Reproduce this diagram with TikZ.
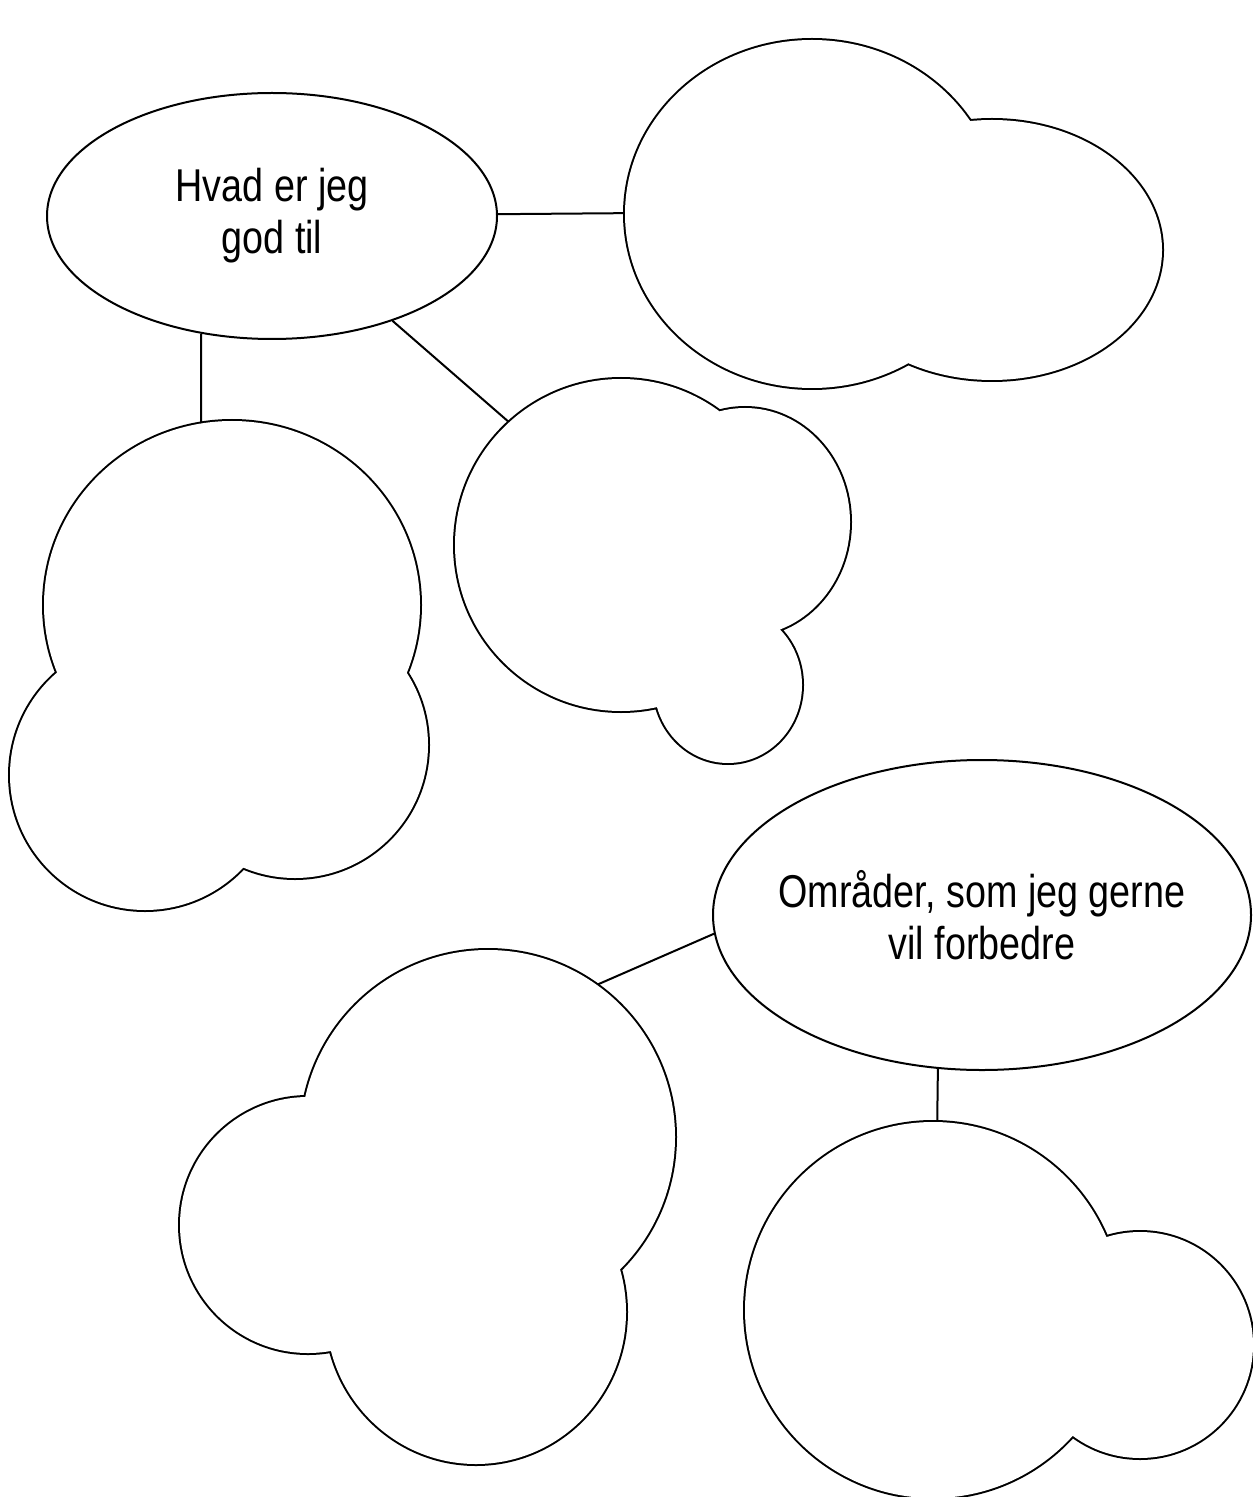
\documentclass[tikz,border=0pt]{standalone}
\usepackage{fontspec}
\setmainfont{Liberation Sans}[FakeStretch=0.82]
\usetikzlibrary{shapes.geometric}
\begin{document}
\begin{tikzpicture}
[x=0.5pt,y=-0.5pt,
  nodedecorate/.style={shape=ellipse,draw,fill=white,line width=1pt,inner xsep=-12pt,inner ysep=0pt,
    align=center,font=\fontsize{23}{26}\selectfont},%
  linedecorate/.style={-,line width=1pt},%
  cloudshape/.style={fill=white,preaction={draw,line width=2pt}}]
\path[use as bounding box,fill=white] (0,0) rectangle (1252,1497);
%%% the two questions
% nodes or vertices
\node (hvad) at (272,216) [nodedecorate,minimum width=225pt,minimum height=123pt] {Hvad er jeg\\god til};
\node (omr) at (982,915) [nodedecorate,minimum width=269pt,minimum height=155pt] {Områder, som jeg gerne\\vil forbedre};
% cloud ends of the lines
\coordinate (skyA) at (645,213);
\coordinate (skyB) at (201,440);
\coordinate (skyC) at (518,430);
\coordinate (skyD) at (585,990);
\coordinate (skyE) at (937,1140);
% edges or lines
\path
(hvad) edge[linedecorate] (skyA)
(hvad.239) edge[linedecorate] (skyB)
(hvad) edge[linedecorate] (skyC)
(omr.184) edge[linedecorate] (skyD)
(omr.254) edge[linedecorate] (skyE);
%
%%% clouds
% upper right
\path[cloudshape] (812,214) ellipse [x radius=187,y radius=174]
  (992,250) ellipse [x radius=170,y radius=130];
% left
\path[cloudshape] (232,605) ellipse [x radius=188,y radius=184]
  (145,775) circle [radius=135]
  (295,745) circle [radius=133];
% middle
\path[cloudshape] (621,545) circle [radius=166]
  (745,522) ellipse [x radius=105,y radius=114]
  (728,685) ellipse [x radius=74,y radius=78];
% lower left
\path[cloudshape] (488,1137) circle [radius=187]
  (308,1225) circle [radius=128]
  (476,1312) ellipse [x radius=150,y radius=152];
% lower right
\path[cloudshape] (933,1310) circle [radius=188]
  (1140,1345) circle [radius=113];
\end{tikzpicture}
\end{document}
